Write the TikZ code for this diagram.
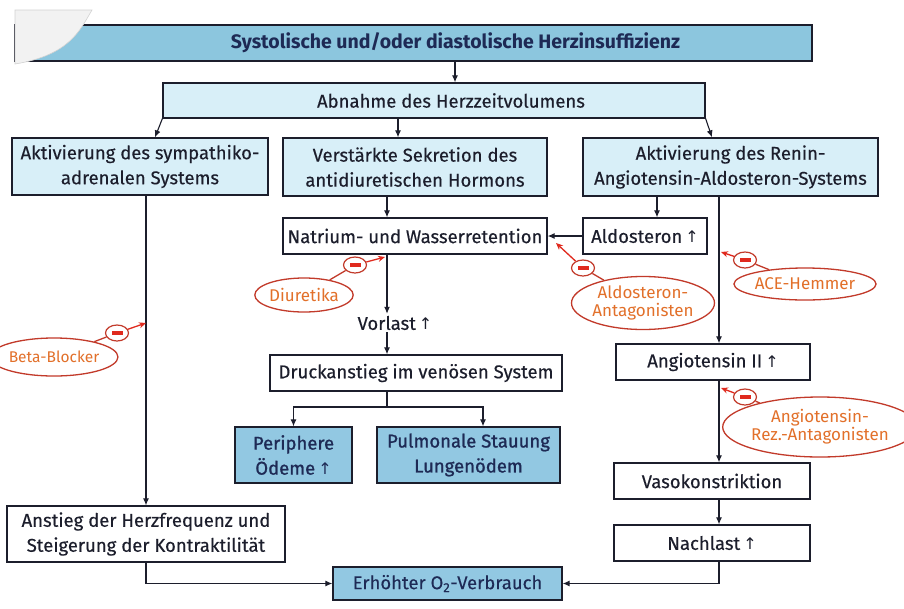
\documentclass[tikz,border=0pt]{standalone}
\usepackage{fontspec}
\setmainfont{Fira Sans}
\newfontfamily\boxfont{Fira Sans}[FakeBold=0.35]
\newfontfamily\semifont{Fira Sans}[FakeBold=1.1]
\newfontfamily\arrowfont{DejaVu Sans}
\usetikzlibrary{shapes.geometric,arrows.meta}
\definecolor{topblue}{HTML}{8CC6DE}
\definecolor{lightblue}{HTML}{D8EFF8}
\definecolor{midblue}{HTML}{92C8E2}
\definecolor{inkc}{HTML}{1C1E2C}
\definecolor{navy}{HTML}{1E2A55}
\definecolor{redline}{HTML}{C23A2A}
\definecolor{redtext}{HTML}{E2702A}
\definecolor{redarrow}{HTML}{E02A1E}
\newcommand{\up}{\,{\arrowfont\fontsize{16}{16}\selectfont ↑}}
\tikzset{
  box/.style={draw=inkc, line width=1.3pt, align=center, inner sep=0pt, text=inkc,
    font=\boxfont\fontsize{18.5}{25}\selectfont},
  lbox/.style={box, fill=lightblue},
  bbox/.style={box, fill=midblue},
  arr/.style={draw=inkc, line width=1.1pt, -{Latex[length=7pt,width=6pt]}},
  ln/.style={draw=inkc, line width=1.1pt},
  drug/.style={ellipse, draw=redline, line width=1.3pt, inner sep=0pt, align=center,
    text=redtext, font=\fontsize{17}{18}\selectfont},
  minus/.style={ellipse, draw=redline, line width=1.2pt, minimum width=23pt, minimum height=16pt, inner sep=0pt,
    path picture={\fill[redarrow] ([xshift=-5.5pt,yshift=-1.7pt]path picture bounding box.center) rectangle ++(11pt,3.4pt);}},
  rarr/.style={draw=redarrow, line width=1.3pt, -{Stealth[length=7pt,width=6pt]}},
  rln/.style={draw=redline, line width=1.3pt},
}
\begin{document}
\begin{tikzpicture}[x=1pt,y=-1pt]
\useasboundingbox (0,0) rectangle (904,608);
\fill[white] (0,0) rectangle (904,608);
% boxes
\node[box, fill=topblue, text=navy, minimum width=797pt, minimum height=36pt, font=\bfseries\fontsize{19.5}{22}\selectfont] (top) at (413.5,43)
  {\hspace*{84pt}Systolische und/oder diastolische Herzinsuffizienz};
\fill[gray!10, draw=gray!35, line width=0.6pt] (15,10) -- (92,10) .. controls (80,30) and (70,55) .. (15,64) -- cycle;
\node[lbox, minimum width=542pt, minimum height=35pt] (abn) at (434,100.5) {\hspace*{34pt}Abnahme des Herzzeitvolumens};
\node[lbox, minimum width=256pt, minimum height=57pt] (sym) at (140,166.5) {Aktivierung des sympathiko-\\adrenalen Systems};
\node[lbox, minimum width=264pt, minimum height=58pt] (adh) at (415,167) {Verstärkte Sekretion des\\antidiuretischen Hormons};
\node[lbox, minimum width=295pt, minimum height=58pt] (raas) at (730.5,167) {Aktivierung des Renin-\\Angiotensin-Aldosteron-Systems};
\node[box, minimum width=264pt, minimum height=36pt] (nat) at (415,236) {Natrium- und Wasserretention};
\node[box, minimum width=124pt, minimum height=36pt] (ald) at (645,236) {Aldosteron\up};
\node[inner sep=2pt, text=inkc, font=\boxfont\fontsize{18.5}{20}\selectfont] (vorl) at (395,323) {Vorlast\up};
\node[box, minimum width=292pt, minimum height=36pt] (druck) at (416,373) {Druckanstieg im venösen System};
\node[bbox, text=navy, font=\semifont\fontsize{18.5}{25}\selectfont, minimum width=117pt, minimum height=56pt] (peri) at (293.5,455) {Periphere\\Ödeme\up};
\node[bbox, text=navy, font=\semifont\fontsize{18.5}{25}\selectfont, minimum width=183pt, minimum height=56pt] (pulm) at (468.5,455) {Pulmonale Stauung\\Lungenödem};
\node[box, minimum width=194pt, minimum height=36pt] (ang) at (713,362) {Angiotensin II\up};
\node[box, minimum width=196pt, minimum height=36pt] (vaso) at (712,481) {Vasokonstriktion};
\node[box, minimum width=196pt, minimum height=36pt] (nach) at (712,543) {Nachlast\up};
\node[box, minimum width=278pt, minimum height=56pt] (anst) at (146,534) {Anstieg der Herzfrequenz und\\Steigerung der Kontraktilität};
\node[bbox, text=navy, minimum width=229pt, minimum height=33pt] (erh) at (447.5,583.5) {Erhöhter O\textsubscript{2}-Verbrauch};
% helper coordinates
\coordinate (t1) at ([xshift=41.5pt]top.south);
\coordinate (a2) at ([xshift=-17pt]adh.north);
\coordinate (s1) at ([xshift=6pt]sym.south);
\coordinate (n1) at ([xshift=-28pt]adh.south);
\coordinate (r1) at ([xshift=-73.5pt]raas.south);
\coordinate (r2) at ([xshift=-11.5pt]raas.south);
\coordinate (br) at (387,407);
% connectors
\draw[arr] (t1) -- (t1 |- abn.north);
\draw[arr] (abn.south west) -- ([xshift=15pt]sym.north);
\draw[arr] (a2 |- abn.south) -- (a2);
\draw[arr] (abn.south east) -- ([xshift=-18.5pt]raas.north);
\draw[arr] (s1) -- (s1 |- anst.north);
\draw[arr] (n1) -- (n1 |- nat.north);
\draw[arr] (r1) -- (r1 |- ald.north);
\draw[arr] (ald.west) -- (nat.east);
\draw[arr] (r2) -- (r2 |- ang.north);
\draw[arr] (r2 |- ang.south) -- (r2 |- vaso.north);
\draw[arr] (r2 |- vaso.south) -- (r2 |- nach.north);
\draw[arr] (r2 |- nach.south) |- (erh.east);
\draw[arr] (s1 |- anst.south) |- (erh.west);
\draw[arr] (n1 |- nat.south) -- (n1 |- vorl.north);
\draw[arr] (n1 |- vorl.south) -- (n1 |- druck.north);
\draw[ln] (n1 |- druck.south) -- (br);
\draw[arr] (br) -| (peri.north);
\draw[arr] (br) -| ([xshift=14.5pt]pulm.north);
% drugs
\node[drug, minimum width=90pt, minimum height=38pt, font=\fontsize{15.5}{17}\selectfont] (beta) at (54,357) {Beta-Blocker};
\node[minus] (m1) at (117,333) {};
\coordinate (x1) at (s1 |- 0,323);
\draw[rln] (beta) -- (m1);
\draw[rarr] (m1) -- (x1);
\node[drug, minimum width=86pt, minimum height=34pt] (diu) at (304,295) {Diuretika};
\node[minus] (m2) at (355,265) {};
\coordinate (x2) at (385,257);
\draw[rln] (diu) -- (m2);
\draw[rarr] (m2) -- (x2);
\node[drug, minimum width=133pt, minimum height=53pt] (aant) at (643,303) {Aldosteron-\\Antagonisten};
\node[minus] (m3) at (583,268) {};
\coordinate (x3) at (556,243);
\draw[rln] (aant) -- (m3);
\draw[rarr] (m3) -- (x3);
\node[drug, minimum width=125pt, minimum height=32pt] (ace) at (805,284) {ACE-Hemmer};
\node[minus] (m4) at (745,260) {};
\coordinate (x4) at (721,252);
\draw[rln] (ace) -- (m4);
\draw[rarr] (m4) -- (x4);
\node[drug, minimum width=160pt, minimum height=60pt] (rez) at (820,427) {Angiotensin-\\Rez.-Antagonisten};
\node[minus] (m5) at (745,397) {};
\coordinate (x5) at (721,388);
\draw[rln] (rez) -- (m5);
\draw[rarr] (m5) -- (x5);
\end{tikzpicture}
\end{document}
